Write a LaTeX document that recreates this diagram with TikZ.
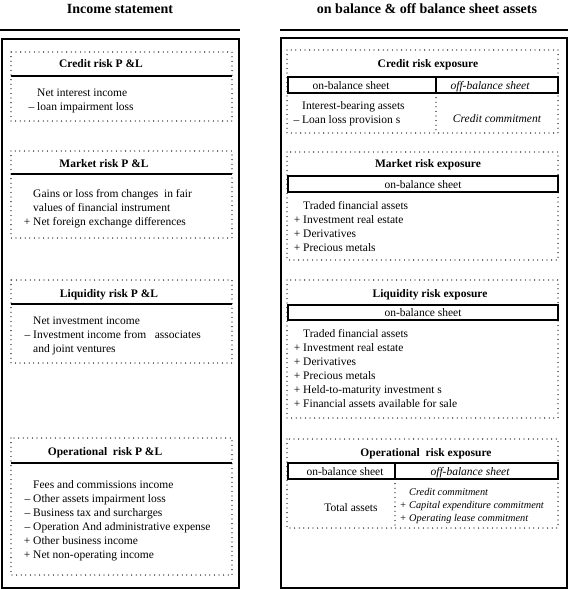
\documentclass[tikz,border=0pt]{standalone}
\usepackage{fontspec}
\setmainfont{Liberation Serif}
\begin{document}
\begin{tikzpicture}[x=1pt,y=-1pt,
  frame/.style={draw, line width=1.4pt},
  headrule/.style={line width=2.8pt},
  dotbox/.style={draw, line width=1.3pt, line cap=round, dash pattern=on 0pt off 4.6pt},
  titlerule/.style={line width=1.3pt},
  cellbox/.style={draw, line width=1.1pt},
  head/.style={inner sep=0pt, anchor=base, font=\bfseries\fontsize{14}{16}\selectfont},
  ttl/.style={inner sep=0pt, anchor=base, font=\bfseries\fontsize{11.5}{14}\selectfont},
  body/.style={inner sep=0pt, anchor=base west, align=left, font=\fontsize{11.5}{14}\selectfont},
  cell/.style={inner sep=0pt, anchor=base, font=\fontsize{11.5}{14}\selectfont},
  icell/.style={inner sep=0pt, anchor=base, font=\itshape\fontsize{11.5}{14}\selectfont},
  ibody/.style={inner sep=0pt, anchor=base west, align=left, font=\itshape\fontsize{10.3}{13}\selectfont},
]
\useasboundingbox (0,0) rectangle (570,589);
% multi-line text blocks are placed by the baseline of their last line

% ---------- column headings ----------
\node[head] (hl) at (120,13) {Income statement};
\node[head] (hr) at (427,13) {on balance \& off balance sheet assets};
\draw[headrule] (0,30) -- (240,30);
\draw[headrule] (280,30) -- (568,30);

% ---------- outer frames ----------
\draw[frame] (2,39) rectangle (239,588);
\draw[frame] (281,38) rectangle (567,588);

% ================= income statement =================
% credit risk
\draw[dotbox] (11,52) rectangle (232,121);
\node[ttl] (lcr) at (101,67) {Credit risk P \&L};
\draw[titlerule] (11,76) -- (232,76);
\node[body] (lcrt) at (37,110) {Net interest income\\\llap{– }loan impairment loss};

% market risk
\draw[dotbox] (11,151) rectangle (232,238);
\node[ttl] (lmr) at (104,167) {Market risk P \&L};
\draw[titlerule] (11,174) -- (232,174);
\node[body] (lmrt) at (33,225) {Gains or loss from changes\ \ in fair\\values of financial instrument\\\llap{+ }Net foreign exchange differences};

% liquidity risk
\draw[dotbox] (11,280) rectangle (232,363);
\node[ttl] (llr) at (109,297) {Liquidity risk P \&L};
\draw[titlerule] (11,304) -- (232,304);
\node[body] (llrt) at (33,352) {Net investment income\\\llap{– }Investment income from\ \ \ associates\\and joint ventures};

% operational risk
\draw[dotbox] (11,438) rectangle (232,575);
\node[ttl] (lor) at (105,455) {Operational\ \ risk P \&L};
\draw[titlerule] (11,463) -- (232,463);
\node[body] (lort) at (33,558) {Fees and commissions income\\\llap{– }Other assets impairment loss\\\llap{– }Business tax and surcharges\\\llap{– }Operation\ And administrative\ expense\\\llap{+ }Other business income\\\llap{+ }Net non-operating income};

% ================= balance sheet assets =================
% credit risk exposure
\draw[dotbox] (287,50) rectangle (558,133);
\node[ttl] (rcr) at (428,67) {Credit risk exposure};
\draw[cellbox] (288,77) rectangle (558,93);
\draw[cellbox] (436,77) -- (436,93);
\node[cell] (rcron) at (351,89) {on-balance sheet};
\node[icell] (rcroff) at (490,89) {off-balance sheet};
\draw[dotbox] (436,93) -- (436,133);
\node[body] (rcrt) at (302,123) {Interest-bearing assets\\\llap{– }Loan loss provision s};
\node[icell] (rcrc) at (497,122) {Credit commitment};

% market risk exposure
\draw[dotbox] (287,152) rectangle (558,260);
\node[ttl] (rmr) at (428,167) {Market risk exposure};
\draw[cellbox] (288,176) rectangle (558,192);
\node[cell] (rmron) at (423,188) {on-balance sheet};
\node[body] (rmrt) at (303,251) {Traded financial assets\\\llap{+ }Investment real estate\\\llap{+ }Derivatives\\\llap{+ }Precious metals};

% liquidity risk exposure
\draw[dotbox] (287,280) rectangle (558,418);
\node[ttl] (rlr) at (430,297) {Liquidity risk exposure};
\draw[cellbox] (288,305) rectangle (558,320);
\node[cell] (rlron) at (423,316) {on-balance sheet};
\node[body] (rlrt) at (303,407) {Traded financial assets\\\llap{+ }Investment real estate\\\llap{+ }Derivatives\\\llap{+ }Precious metals\\\llap{+ }Held-to-maturity investment s\\\llap{+ }Financial assets available for sale};

% operational risk exposure
\draw[dotbox] (287,439) rectangle (558,528);
\node[ttl] (ror) at (426,456) {Operational\ \ risk exposure};
\draw[cellbox] (288,463) rectangle (558,479);
\draw[cellbox] (395,463) -- (395,479);
\node[cell] (roron) at (345,475) {on-balance sheet};
\node[icell] (roroff) at (470,475) {off-balance sheet};
\draw[dotbox] (395,479) -- (395,528);
\node[cell] (rort) at (351,511) {Total assets};
\node[ibody] (rori) at (409,521) {Credit commitment\\\llap{+ }Capital expenditure commitment\\\llap{+ }Operating lease commitment};
\end{tikzpicture}
\end{document}
